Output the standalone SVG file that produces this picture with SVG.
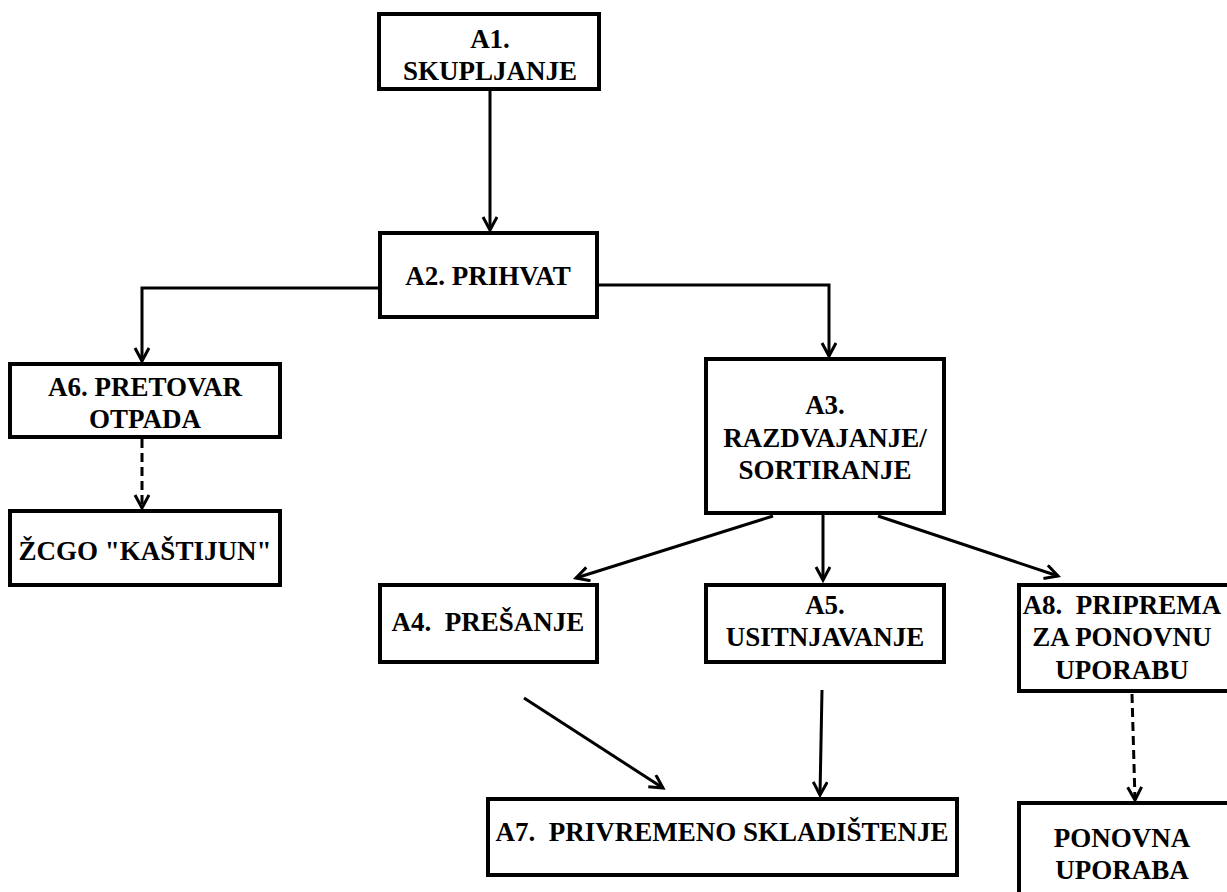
<svg xmlns="http://www.w3.org/2000/svg" width="1227" height="892" viewBox="0 0 1227 892">
<style>
.box{fill:#fff;stroke:#000;stroke-width:4}
text{font-family:'Liberation Serif','Times New Roman',Times,serif;font-weight:bold;font-size:27px;fill:#000;text-anchor:middle;white-space:pre}
.c{fill:none;stroke:#000;stroke-width:3}
.d{fill:none;stroke:#000;stroke-width:3;stroke-dasharray:9,5}
</style>
<defs>
<marker id="ah" markerUnits="userSpaceOnUse" markerWidth="20" markerHeight="20" viewBox="0 0 20 20" refX="14" refY="8" orient="auto">
<path d="M1,1 L14,8 L1,15" fill="none" stroke="#000" stroke-width="3"/>
</marker>
</defs>
<rect width="1227" height="892" fill="#fff"/>
<g id="connectors">
<line class="c" x1="490" y1="89" x2="490" y2="230" marker-end="url(#ah)"/>
<polyline class="c" points="380,288 142,288 142,361" marker-end="url(#ah)"/>
<polyline class="c" points="597,285 829,285 829,356" marker-end="url(#ah)"/>
<line class="d" x1="142" y1="439" x2="142" y2="508" marker-end="url(#ah)"/>
<line class="c" x1="773" y1="516" x2="576" y2="578" marker-end="url(#ah)"/>
<line class="c" x1="823" y1="515" x2="823" y2="580" marker-end="url(#ah)"/>
<line class="c" x1="878" y1="516" x2="1058" y2="576" marker-end="url(#ah)"/>
<line class="c" x1="524" y1="698" x2="663" y2="788" marker-end="url(#ah)"/>
<line class="c" x1="822" y1="690" x2="820" y2="795" marker-end="url(#ah)"/>
<line class="d" x1="1132" y1="694" x2="1135" y2="800" marker-end="url(#ah)"/>
</g>
<g font-family="Liberation Serif, serif">
<g id="A1"><rect class="box" x="379" y="14" width="220" height="75"/>
<text x="490" y="48">A1.</text><text x="490" y="80">SKUPLJANJE</text></g>
<g id="A2"><rect class="box" x="380" y="233" width="217" height="84"/>
<text x="488" y="285">A2. PRIHVAT</text></g>
<g id="A6"><rect class="box" x="10" y="364" width="270" height="73"/>
<text x="145" y="396">A6. PRETOVAR</text><text x="145" y="428">OTPADA</text></g>
<g id="ZCGO"><rect class="box" x="10" y="511" width="270" height="74"/>
<text x="145" y="560">ŽCGO "KAŠTIJUN"</text></g>
<g id="A3"><rect class="box" x="706" y="359" width="238" height="154"/>
<text x="825" y="414">A3.</text><text x="825" y="447">RAZDVAJANJE/</text><text x="825" y="479">SORTIRANJE</text></g>
<g id="A4"><rect class="box" x="380" y="585" width="217" height="77"/>
<text x="488" y="631">A4.  PREŠANJE</text></g>
<g id="A5"><rect class="box" x="706" y="585" width="238" height="77"/>
<text x="825" y="614">A5.</text><text x="825" y="646">USITNJAVANJE</text></g>
<g id="A8"><rect class="box" x="1019" y="585" width="212" height="106"/>
<text x="1122" y="614">A8.  PRIPREMA</text><text x="1122" y="646">ZA PONOVNU</text><text x="1122" y="679">UPORABU</text></g>
<g id="A7"><rect class="box" x="488" y="799" width="469" height="76"/>
<text x="722" y="841">A7.  PRIVREMENO SKLADIŠTENJE</text></g>
<g id="PU"><rect class="box" x="1019" y="803" width="212" height="95"/>
<text x="1122" y="847">PONOVNA</text><text x="1122" y="879">UPORABA</text></g>
</g>
</svg>
